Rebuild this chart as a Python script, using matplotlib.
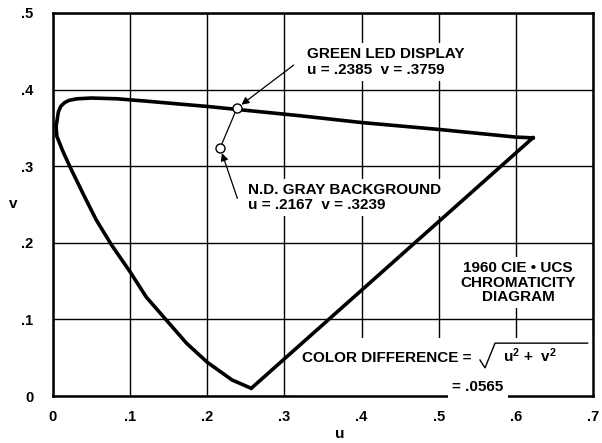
import matplotlib
matplotlib.use('Agg')
import numpy as np
import matplotlib.pyplot as plt
from matplotlib.patches import Rectangle

# spectral locus of the 1960 CIE-UCS diagram, red end -> top -> violet end, closed by the purple line
locus_u = [0.622, 0.600, 0.500, 0.400, 0.319, 0.200, 0.120, 0.083, 0.050, 0.031, 0.021, 0.015,
           0.010, 0.007, 0.004, 0.005, 0.013, 0.024, 0.040, 0.056, 0.076, 0.100, 0.121, 0.147,
           0.173, 0.200, 0.232, 0.257, 0.622]
locus_v = [0.337, 0.338, 0.348, 0.357, 0.366, 0.378, 0.385, 0.388, 0.389, 0.388, 0.386, 0.383,
           0.378, 0.371, 0.352, 0.339, 0.319, 0.295, 0.262, 0.230, 0.197, 0.162, 0.129, 0.099,
           0.069, 0.044, 0.021, 0.010, 0.337]

# measured points
green_u, green_v = 0.2385, 0.3759
gray_u, gray_v = 0.2167, 0.3239
color_diff = 0.0565

x_ticks = [0, 0.1, 0.2, 0.3, 0.4, 0.5, 0.6, 0.7]
x_labels = ['0', '.1', '.2', '.3', '.4', '.5', '.6', '.7']
y_ticks = [0, 0.1, 0.2, 0.3, 0.4, 0.5]
y_labels = ['0', '.1', '.2', '.3', '.4', '.5']


def short(val):
    # .2385 style, no leading zero
    return ('%.4f' % val).lstrip('0')


plt.rcParams['font.family'] = ['Liberation Sans', 'DejaVu Sans']
plt.rcParams['font.weight'] = 'bold'
plt.rcParams['mathtext.fontset'] = 'custom'
plt.rcParams['mathtext.rm'] = 'Liberation Sans:bold'
plt.rcParams['mathtext.it'] = 'Liberation Sans:bold'
plt.rcParams['mathtext.bf'] = 'Liberation Sans:bold'

fig = plt.figure(figsize=(6.02, 4.43), dpi=100)
ax = fig.add_axes([53 / 602, 47 / 443, 540 / 602, 383 / 443])
ax.set_xlim(0, 0.7)
ax.set_ylim(0, 0.5)

ax.set_xticks(x_ticks)
ax.set_xticklabels(x_labels)
ax.set_yticks(y_ticks)
ax.set_yticklabels(y_labels)
ax.tick_params(axis='x', length=0, pad=10, labelsize=10.5)
ax.tick_params(axis='y', length=0, pad=14, labelsize=10.5)
ax.grid(True, color='black', lw=1.0)
ax.set_axisbelow(True)
for s in ax.spines.values():
    s.set_linewidth(1.8)

ax.set_xlabel('u', fontsize=11, fontweight='bold')
ax.xaxis.set_label_coords(0.531, -0.082)
ax.set_ylabel('v', fontsize=11, fontweight='bold', rotation=0, ha='center', va='center')
ax.yaxis.set_label_coords(-0.074, 0.5)

ax.plot(locus_u, locus_v, color='black', lw=2.6, solid_joinstyle='miter', zorder=5)

# line between the two samples
ax.plot([green_u, gray_u], [green_v, gray_v], color='black', lw=0.9, zorder=5)
ax.plot([green_u, gray_u], [green_v, gray_v], 'o', ms=6.5, mfc='white', mec='black',
        mew=1.0, zorder=6)

arrow = dict(arrowstyle='-|>', color='black', lw=0.9, mutation_scale=11, shrinkA=0, shrinkB=4)
ax.annotate('', xy=(green_u, green_v), xytext=(0.312, 0.432), arrowprops=arrow, zorder=6)
ax.annotate('', xy=(gray_u, gray_v), xytext=(0.239, 0.258), arrowprops=arrow, zorder=6)

box = dict(fc='white', ec='none', pad=3)
ax.text(0.329, 0.436, 'GREEN LED DISPLAY\nu = %s  v = %s' % (short(green_u), short(green_v)),
        fontsize=11, va='center', ha='left', linespacing=1.1, bbox=box, zorder=4)
ax.text(0.253, 0.259, 'N.D. GRAY BACKGROUND\nu = %s  v = %s' % (short(gray_u), short(gray_v)),
        fontsize=11, va='center', ha='left', linespacing=1.1, bbox=box, zorder=4)
ax.text(0.603, 0.148, '1960 CIE \u2022 UCS\nCHROMATICITY\nDIAGRAM',
        fontsize=11, va='center', ha='center', linespacing=1.05, bbox=box, zorder=4)

# colour difference formula
ax.add_patch(Rectangle((0.318, 0.0), 0.382, 0.076, transform=ax.transData,
                       fc='white', ec='none', zorder=1))
ax.text(0.323, 0.050, 'COLOR DIFFERENCE =', fontsize=11, va='center', ha='left', zorder=4)
ax.plot([0.5535, 0.560, 0.573, 0.693], [0.047, 0.0366, 0.069, 0.069],
        color='black', lw=1.0, solid_joinstyle='miter', zorder=4)
ax.text(0.583, 0.052, 'u$^{2}$ +  v$^{2}$', fontsize=11, va='center', ha='left', zorder=4)
ax.text(0.551, 0.012, '= %s' % short(color_diff), fontsize=11,
        va='center', ha='center', bbox=box, zorder=4)

fig.savefig('out.png', dpi=100)
